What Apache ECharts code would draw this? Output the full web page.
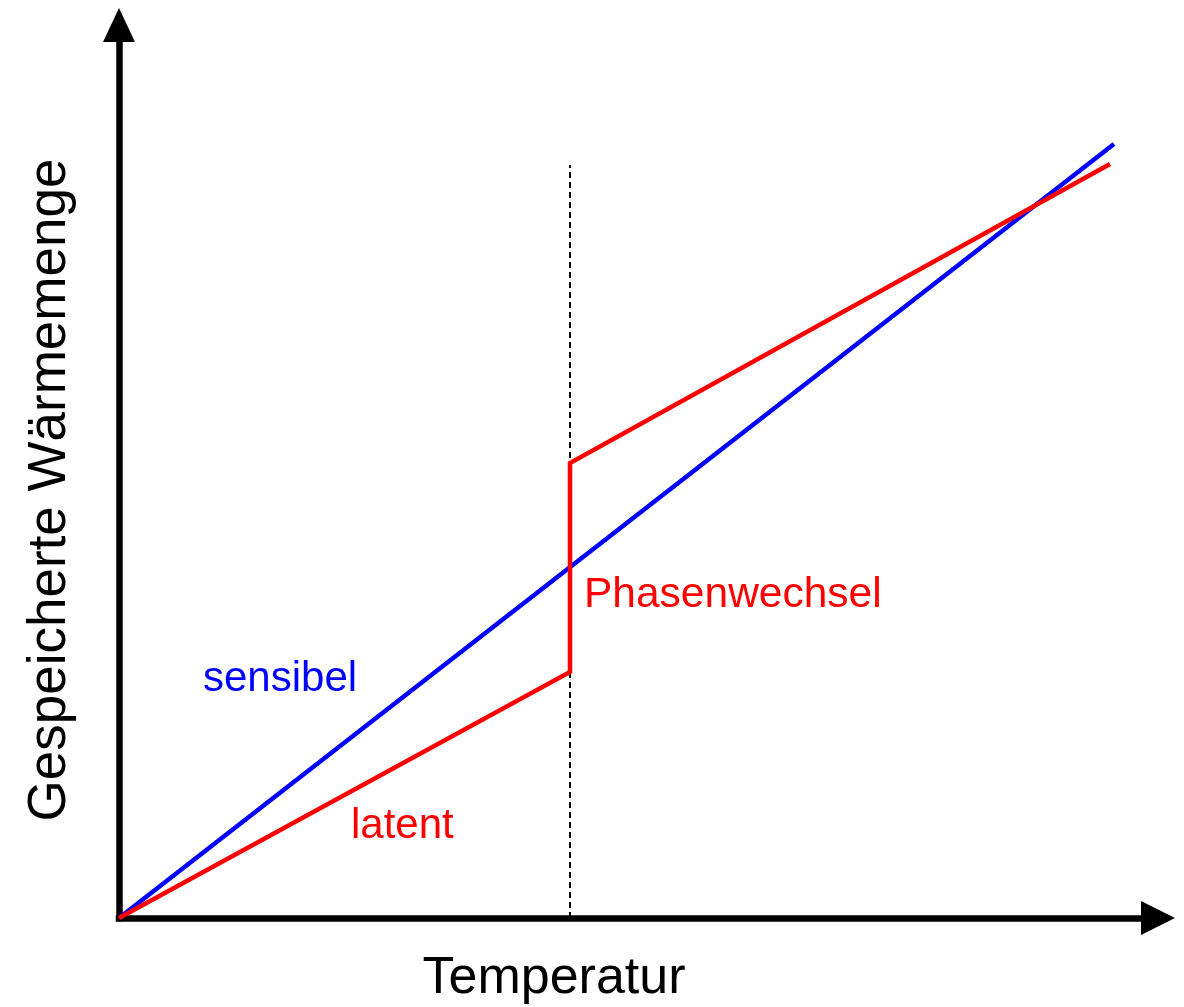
<!DOCTYPE html>
<html>
<head>
<meta charset="utf-8">
<script src="https://cdn.jsdelivr.net/npm/echarts@6/dist/echarts.min.js"></script>
<style>
  html, body { margin: 0; padding: 0; background: #fff; }
  #chart { width: 1184px; height: 1007px; }
</style>
</head>
<body>
<div id="chart"></div>
<script>
// Werte (Einheit: ca. 10 px)
const sensibelX = [0, 99.5];
const sensibelY = [0, 77.4];
const latentX = [0, 45.1, 45.1, 99.1];
const latentY = [0, 24.6, 45.5, 75.4];
const phaseX = [45.1, 45.1];
const phaseY = [0, 75.3];

const xMax = 103.9;
const yMax = 89.3;

const FONT = '"Liberation Sans", Arial, sans-serif';

const zip = (xs, ys) => xs.map((x, i) => [x, ys[i]]);

const chart = echarts.init(document.getElementById('chart'));

chart.setOption({
  animation: false,
  backgroundColor: '#fff',
  grid: {
    left: 119,
    right: 26,
    top: 25,
    bottom: 89
  },
  xAxis: {
    type: 'value',
    min: 0,
    max: xMax,
    axisLine: {
      show: true,
      symbol: ['none', 'triangle'],
      symbolSize: [34, 34],
      lineStyle: { color: '#000', width: 6.5, cap: 'square' }
    },
    axisTick: { show: false },
    axisLabel: { show: false },
    splitLine: { show: false }
  },
  yAxis: {
    type: 'value',
    min: 0,
    max: yMax,
    axisLine: {
      show: true,
      symbol: ['none', 'triangle'],
      symbolSize: [32, 34],
      lineStyle: { color: '#000', width: 6.5, cap: 'square' }
    },
    axisTick: { show: false },
    axisLabel: { show: false },
    splitLine: { show: false }
  },
  series: [
    {
      name: 'Phasenwechsel',
      type: 'line',
      data: zip(phaseX, phaseY),
      symbol: 'none',
      clip: false,
      lineStyle: { color: '#000', width: 2, type: [6, 4] }
    },
    {
      name: 'sensibel',
      type: 'line',
      data: zip(sensibelX, sensibelY),
      symbol: 'none',
      clip: false,
      lineStyle: { color: '#0000ff', width: 4.5 }
    },
    {
      name: 'latent',
      type: 'line',
      data: zip(latentX, latentY),
      symbol: 'none',
      clip: false,
      lineStyle: { color: '#ff0000', width: 4.5, join: 'miter' }
    }
  ],
  graphic: [
    {
      type: 'text',
      x: 554,
      y: 979,
      style: {
        text: 'Temperatur',
        font: '52px ' + FONT,
        fill: '#000',
        align: 'center',
        verticalAlign: 'middle'
      }
    },
    {
      type: 'text',
      x: 50,
      y: 490,
      rotation: Math.PI / 2,
      style: {
        text: 'Gespeicherte Wärmemenge',
        font: '53px ' + FONT,
        fill: '#000',
        align: 'center',
        verticalAlign: 'middle'
      }
    },
    {
      type: 'text',
      x: 203,
      y: 679,
      style: {
        text: 'sensibel',
        font: '42px ' + FONT,
        fill: '#0000ff',
        align: 'left',
        verticalAlign: 'middle'
      }
    },
    {
      type: 'text',
      x: 351,
      y: 826,
      style: {
        text: 'latent',
        font: '42px ' + FONT,
        fill: '#ff0000',
        align: 'left',
        verticalAlign: 'middle'
      }
    },
    {
      type: 'text',
      x: 584,
      y: 595,
      style: {
        text: 'Phasenwechsel',
        font: '42.5px ' + FONT,
        fill: '#ff0000',
        align: 'left',
        verticalAlign: 'middle'
      }
    }
  ]
});
</script>
</body>
</html>
